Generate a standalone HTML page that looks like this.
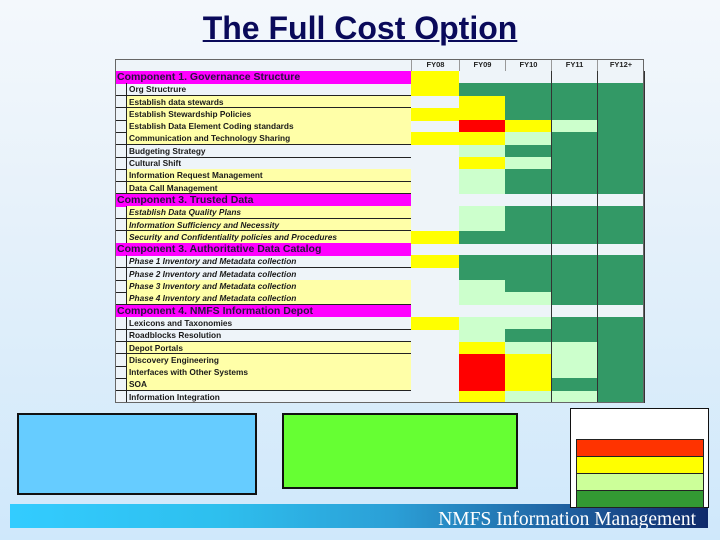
<!DOCTYPE html>
<html><head><meta charset="utf-8">
<style>
html,body{margin:0;padding:0}
body{width:720px;height:540px;position:relative;overflow:hidden;background:linear-gradient(#f4f8fc 0%,#e6f1fa 40%,#cfe8fb 100%);font-family:"Liberation Sans",sans-serif}
#title{position:absolute;left:0;width:720px;top:9px;text-align:center;font-size:32px;font-weight:bold;color:#0a0a5a;text-decoration:underline;text-decoration-thickness:2px;line-height:38px}
#tbl{position:absolute;left:115px;top:59px;width:529px;height:344px;background:#eef4f9}
.c{position:absolute;box-sizing:border-box}
.lbl{font-size:8.3px;font-weight:bold;color:#1a1a1a;white-space:nowrap;line-height:12px;padding-left:2px}
.hdr{font-size:10.5px;font-weight:bold;color:#2a1040;background:#ff00ff;line-height:13px;padding-left:2px;white-space:nowrap}
.fy{font-size:7.5px;font-weight:bold;text-align:center;line-height:12px;color:#222}
</style></head><body>
<div id="title">The Full Cost Option</div>
<div id="tbl"></div>
<div class="c" style="left:17px;top:413px;width:240px;height:82px;background:#66ccff;border:2px solid #111"></div>
<div class="c" style="left:282px;top:413px;width:236px;height:76px;background:#66ff33;border:2px solid #111"></div>
<div class="c" style="left:10px;top:504px;width:698px;height:24px;overflow:hidden;background:linear-gradient(90deg,#33ccff 0%,#2ebfee 30%,#2b9fd6 55%,#1f5f9f 80%,#0f2a6a 100%)">
<div style="position:absolute;right:12px;top:5px;font-family:'Liberation Serif',serif;font-size:19.5px;color:#fff;line-height:22px;white-space:nowrap">NMFS Information Management</div></div>
<div class="c" style="left:570px;top:408px;width:139px;height:100px;background:#fff;border:1px solid #111">
<div class="c" style="left:5px;top:30px;width:128px;height:18px;background:#ff3300;border:1px solid #222"></div>
<div class="c" style="left:5px;top:47px;width:128px;height:18px;background:#ffff00;border:1px solid #222"></div>
<div class="c" style="left:5px;top:64px;width:128px;height:18px;background:#ccff99;border:1px solid #222"></div>
<div class="c" style="left:5px;top:81px;width:128px;height:18px;background:#339933;border:1px solid #222"></div>
</div>
<script>
const years=["FY08","FY09","FY10","FY11","FY12+"];
const rowLabels=["Component 1. Governance Structure","Org Structrure","Establish data stewards","Establish Stewardship Policies","Establish Data Element Coding standards","Communication and Technology Sharing","Budgeting Strategy","Cultural Shift","Information Request Management","Data Call Management","Component 3.  Trusted Data","Establish Data Quality Plans","Information Sufficiency and Necessity","Security and Confidentiality policies and Procedures","Component 3.  Authoritative Data Catalog","Phase 1 Inventory and Metadata collection","Phase 2 Inventory and Metadata collection","Phase 3 Inventory and Metadata collection","Phase 4 Inventory and Metadata collection","Component 4.  NMFS Information Depot","Lexicons and Taxonomies","Roadblocks Resolution","Depot Portals","Discovery Engineering","Interfaces with Other Systems","SOA","Information Integration"];
const rowKind=["H","","","","","","","","","","H","I","I","I","H","I","I","I","I","H","","","","","","",""];
const labelFill=["","","Y","Y","Y","Y","","","Y","Y","","Y","Y","Y","","","","Y","Y","","","","Y","Y","Y","Y",""];
const status=["Y____","YGGGG","_YGGG","YYGGG","_RYLG","YYLGG","_LGGG","_YLGG","_LGGG","_LGGG","_____","_LGGG","_LGGG","YGGGG","_____","YGGGG","_GGGG","_LGGG","_LLGG","_____","YLLGG","_LGGG","_YLLG","_RYLG","_RYLG","_RYGG","_YLLG"];
const colors={Y:"#ffff00",R:"#ff0000",L:"#ccffcc",G:"#339966"};
const tbl=document.getElementById('tbl');
const colX=[296,344,390,436,482,529];
const headH=12,rowH=(344-headH)/rowLabels.length;
function mk(cls,l,t,w,h,css){const d=document.createElement('div');d.className='c '+cls;d.style.cssText=`left:${l}px;top:${t}px;width:${w}px;height:${h}px;`+(css||'');tbl.appendChild(d);return d;}
years.forEach((y,i)=>{const d=mk('fy',colX[i],0,colX[i+1]-colX[i],headH,'border-left:1px solid #999');d.textContent=y;

});
rowLabels.forEach((lab,r)=>{
 const t=headH+r*rowH;
 if(rowKind[r]==="H"){const d=mk('hdr',0,t,296,rowH+0.5);d.textContent=lab;
  
  }
 else{
  const ix=mk('',0,t,12,rowH+0.5,'border-bottom:1px solid #222;border-right:1px solid #222');
  
  
  const d=mk('lbl',12,t,284,rowH+0.5,'border-bottom:1px solid #222;'+(labelFill[r]==="Y"?'background:#ffffa8;':'')+(rowKind[r]==="I"?'font-style:italic;':''));
  d.style.lineHeight=rowH+'px';d.textContent=lab;
  
  }
 for(let c=0;c<5;c++){const s=status[r][c];if(s==="_")continue;
  const cell=mk('',colX[c],t,colX[c+1]-colX[c],rowH+0.5,'background:'+colors[s]);
  
  }
});
for(let c=3;c<6;c++){const l=mk('',colX[c]-0.5,headH,1,344-headH,'background:#333');
 
 }
const bd=mk('',0,0,529,344,'border:1px solid #666');


</script>
</body></html>
